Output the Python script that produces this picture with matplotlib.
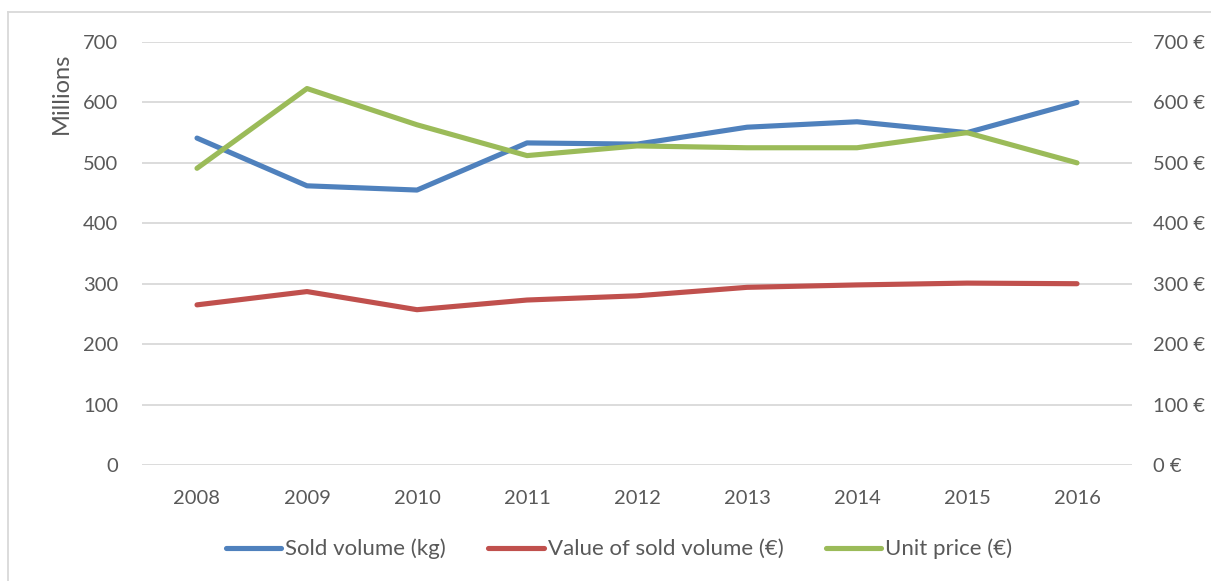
import matplotlib
matplotlib.use("Agg")
import matplotlib.pyplot as plt
from matplotlib.lines import Line2D

years = ["2008", "2009", "2010", "2011", "2012", "2013", "2014", "2015", "2016"]
sold_volume = [541, 462, 455, 533, 531, 559, 568, 550, 600]
sold_value = [265, 287, 257, 273, 280, 294, 298, 301, 300]
unit_price = [491, 623, 563, 512, 528, 525, 525, 550, 500]
left_ticks = [0, 100, 200, 300, 400, 500, 600, 700]
right_tick_labels = ["0 €", "100 €", "200 €", "300 €", "400 €", "500 €", "600 €", "700 €"]

W, H = 1211, 581
plt.rcParams['font.family'] = ['Lato', 'DejaVu Sans']
txt = '#595959'
grid = '#D9D9D9'
fig = plt.figure(figsize=(W / 100, H / 100), dpi=100)

x0, x1 = 142, 1132
y_top, y_bot = 42, 465
ax = fig.add_axes([x0 / W, 1 - y_bot / H, (x1 - x0) / W, (y_bot - y_top) / H])
ax2 = ax.twinx()

fs = 14.5
xs = list(range(len(years)))
ax.set_xlim(-0.5, len(years) - 0.5)
for a in (ax, ax2):
    a.set_ylim(0, 700)
    for s in a.spines.values():
        s.set_visible(False)
    a.tick_params(length=0, labelsize=fs, labelcolor=txt)
ax.set_yticks(left_ticks)
ax.set_yticklabels([str(v) for v in left_ticks])
ax.tick_params(axis='y', pad=17)
ax.tick_params(axis='x', pad=18)
ax.set_xticks(xs)
ax.set_xticklabels(years)
ax2.set_yticks(left_ticks)
ax2.set_yticklabels(right_tick_labels)
ax2.tick_params(axis='y', pad=15)
ax.grid(axis='y', color=grid, linewidth=1.3)
ax.set_axisbelow(True)

lw = 3.7
c_blue, c_red, c_green = '#4F81BD', '#C0504D', '#9BBB59'
ax.plot(xs, sold_volume, color=c_blue, lw=lw, solid_capstyle='round', solid_joinstyle='round', zorder=3)
ax.plot(xs, sold_value, color=c_red, lw=lw, solid_capstyle='round', solid_joinstyle='round', zorder=3)
ax2.plot(xs, unit_price, color=c_green, lw=lw, solid_capstyle='round', solid_joinstyle='round', zorder=3)

fig.text(61 / W, 1 - 93 / H, "Millions", rotation=90, ha='center', va='center',
         fontsize=17, color=txt)

handles = [Line2D([0], [0], color=c, lw=lw, solid_capstyle='round') for c in (c_blue, c_red, c_green)]
fig.legend(handles, ["Sold volume (kg)", "Value of sold volume (€)", "Unit price (€)"],
           loc='center', bbox_to_anchor=(619 / W, 1 - 549 / H), ncol=3, frameon=False,
           fontsize=16, labelcolor=txt, handlelength=2.5, handletextpad=0.18,
           columnspacing=1.9)

# chart frame
fig.add_artist(Line2D([8 / W, 1.0], [1 - 12 / H, 1 - 12 / H], color=grid, lw=1.3, transform=fig.transFigure))
fig.add_artist(Line2D([8 / W, 8 / W], [1 - 12 / H, 0], color=grid, lw=1.3, transform=fig.transFigure))

fig.savefig("out.png", dpi=100)
